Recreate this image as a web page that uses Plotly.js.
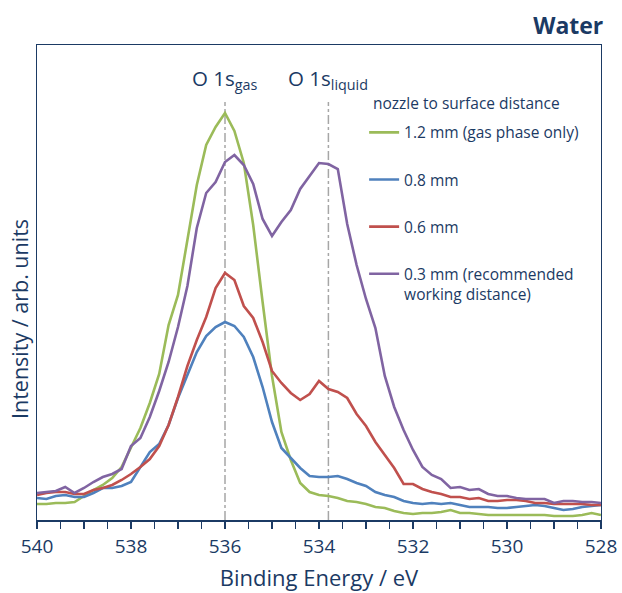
<!DOCTYPE html>
<html>
<head>
<meta charset="utf-8">
<script src="https://cdn.plot.ly/plotly-3.0.1.min.js"></script>
<style>html,body{margin:0;padding:0;background:#fff;}#chart{width:622px;height:593px;}</style>
</head>
<body>
<div id="chart"></div>
<script>
// Binding energy grid (eV), 0.2 eV steps from 540 to 528
const energy = [540.0,539.8,539.6,539.4,539.2,539.0,538.8,538.6,538.4,538.2,538.0,537.8,537.6,537.4,537.2,537.0,536.8,536.6,536.4,536.2,536.0,535.8,535.6,535.4,535.2,535.0,534.8,534.6,534.4,534.2,534.0,533.8,533.6,533.4,533.2,533.0,532.8,532.6,532.4,532.2,532.0,531.8,531.6,531.4,531.2,531.0,530.8,530.6,530.4,530.2,530.0,529.8,529.6,529.4,529.2,529.0,528.8,528.6,528.4,528.2,528.0];

const seriesNames = ["1.2 mm (gas phase only)", "0.8 mm", "0.6 mm", "0.3 mm (recommended<br>working distance)"];

const int12 = [16,16,17,17,18,24,30,35,42,53,72,92,117,146,195,225,280,335,375,393,407,389,357,295,218,144,88,60,37,28,25,24,22,19,18,16,13,12,9,7,6,7,7,8,10,7,7,6,5,5,5,5,5,5,5,4,4,4,5,7,5];
const int08 = [22,21,24,25,23,23,27,32,32,34,38,53,68,76,95,122,145,168,184,193,198,194,183,163,133,98,72,62,52,44,43,43,44,41,37,34,28,25,23,19,17,16,17,16,17,15,13,13,13,12,12,13,14,15,14,12,10,11,13,14,15];
const int06 = [25,27,28,28,26,26,30,32,35,40,46,53,61,74,95,123,154,180,203,232,247,240,214,202,178,149,137,127,120,126,139,131,128,122,106,94,78,65,52,36,36,31,28,26,23,23,21,22,19,19,20,20,19,17,17,16,16,16,16,15,15];
const int03 = [27,28,29,33,27,32,38,43,46,51,74,82,103,129,158,193,234,292,327,338,358,365,355,336,301,284,298,310,331,344,357,356,351,296,255,221,192,144,113,90,70,53,45,41,32,33,30,31,26,24,24,22,21,21,21,17,19,19,18,18,17];

const seriesColors = ["#9BBB59", "#4F81BD", "#C0504D", "#8064A2"];

const peakPositions = [536.0, 533.8];
const peakLabels = ["O 1s<sub>gas</sub>", "O 1s<sub>liquid</sub>"];

const xTickVals = [540, 538, 536, 534, 532, 530, 528];

const legendTitle = "nozzle to surface distance";
const chartTitle = "Water";
const xTitle = "Binding Energy / eV";
const yTitle = "Intensity / arb. units";

const navy = "#1B3A64";
const fontFam = "'Open Sans', 'Noto Sans', sans-serif";

const allSeries = [int12, int08, int06, int03];
const traces = allSeries.map((s, i) => ({
  x: energy, y: s, type: "scatter", mode: "lines",
  name: seriesNames[i], legendgroup: "g" + i,
  line: {color: seriesColors[i], width: 2.6}
}));

const shapes = peakPositions.map(p => ({
  type: "line", xref: "x", yref: "y", x0: p, x1: p, y0: 0, y1: 418,
  line: {color: "#A6A6A6", width: 1.5, dash: "dashdot"}, layer: "below"
}));

const annotations = peakPositions.map((p, i) => ({
  x: p, y: 441, xref: "x", yref: "y", text: peakLabels[i], showarrow: false,
  xanchor: "center", yanchor: "middle",
  font: {family: fontFam, size: 20.5, color: navy}
}));
annotations.push({
  x: 0.592, y: 0.878, xref: "paper", yref: "paper", text: legendTitle, showarrow: false,
  xanchor: "left", yanchor: "middle",
  font: {family: fontFam, size: 15.5, color: navy}
});
annotations.push({
  x: -0.032, y: 0.423, xref: "paper", yref: "paper", text: yTitle, showarrow: false,
  textangle: -90, xanchor: "center", yanchor: "middle",
  font: {family: fontFam, size: 21.5, color: navy}
});

const layout = {
  width: 622, height: 593,
  margin: {l: 37, r: 21, t: 45, b: 73},
  paper_bgcolor: "#fff", plot_bgcolor: "#fff",
  font: {family: fontFam, color: navy},
  title: {text: "<b>" + chartTitle + "</b>", x: 0.97, xref: "container", xanchor: "right",
          y: 0.956, yref: "container", yanchor: "middle",
          font: {family: fontFam, size: 23, color: navy}},
  xaxis: {
    range: [540, 528], tickvals: xTickVals, ticks: "outside", ticklen: 7, tickwidth: 1.3,
    tickcolor: navy, showline: true, linecolor: navy, linewidth: 1.5, mirror: true,
    showgrid: false, zeroline: false, ticklabelstandoff: 2,
    minor: {dtick: 0.5, ticks: "outside", ticklen: 7, tickwidth: 1.3, tickcolor: navy, showgrid: false},
    tickfont: {family: fontFam, size: 19, color: navy},
    title: {text: xTitle, standoff: 12, font: {family: fontFam, size: 22, color: navy}}
  },
  yaxis: {
    range: [0, 475], showticklabels: false, ticks: "", showgrid: false, zeroline: false,
    showline: true, linecolor: navy, linewidth: 1.3, mirror: true
  },
  showlegend: true,
  legend: {
    x: 0.58, y: 0.851, xanchor: "left", yanchor: "top",
    bgcolor: "rgba(0,0,0,0)", font: {family: fontFam, size: 15.5, color: navy},
    tracegroupgap: 24, valign: "top", itemwidth: 30
  },
  shapes: shapes,
  annotations: annotations
};

Plotly.newPlot("chart", traces, layout, {displayModeBar: false, staticPlot: true});
</script>
</body>
</html>
